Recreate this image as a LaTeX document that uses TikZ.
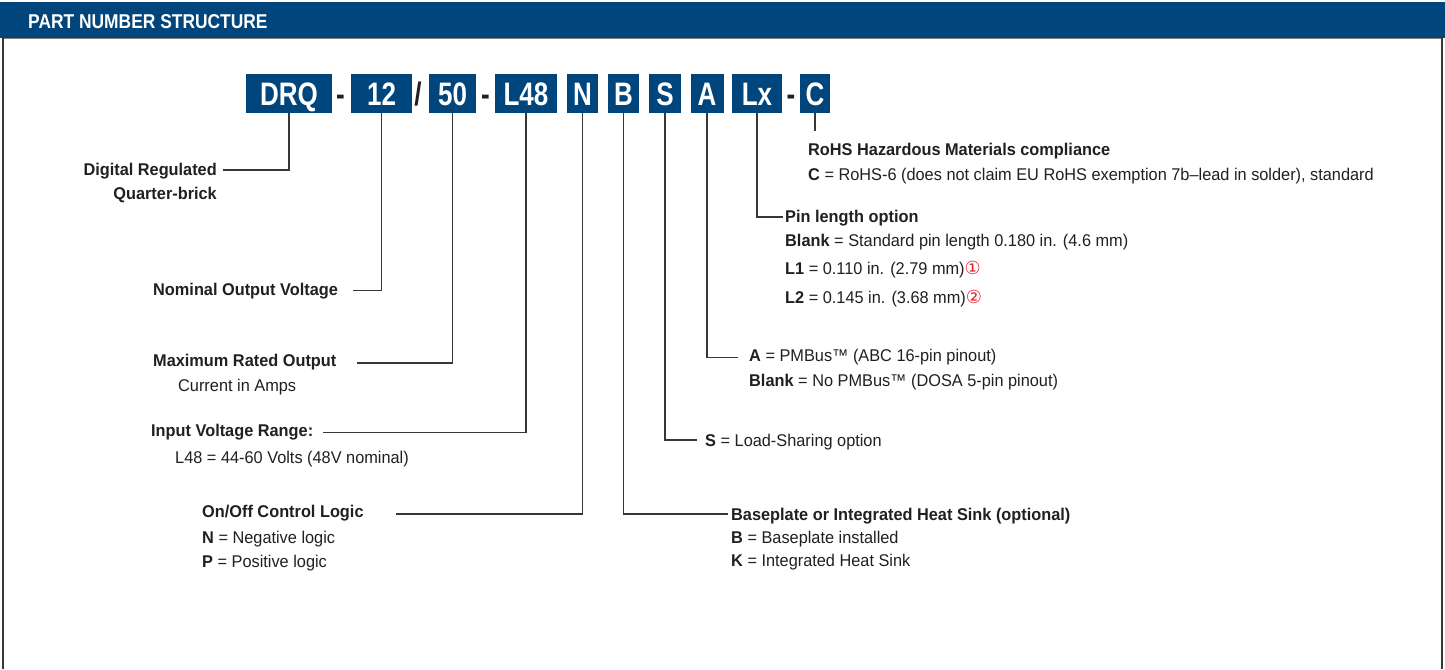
\documentclass[tikz,border=0pt]{standalone}
\usepackage{fontspec}
\setmainfont{Liberation Sans}[FakeStretch=0.96]
\newfontfamily\boxfont{Liberation Sans}[FakeStretch=0.8]
\newfontfamily\hdrfont{Liberation Sans}[FakeStretch=0.87]
\newfontfamily\symfont{DejaVu Sans}
\definecolor{pnblue}{RGB}{0,69,124}
\definecolor{ink}{RGB}{35,31,32}
\definecolor{wirec}{RGB}{55,55,55}
\definecolor{cred}{RGB}{226,30,40}
\tikzset{
  pbox/.style={fill=pnblue, text=white, font=\boxfont\bfseries\fontsize{32.5}{32.5}\selectfont,
    minimum height=39pt, inner sep=0pt, text height=23.3pt, text depth=0pt},
  sepch/.style={text=ink, font=\boxfont\bfseries\fontsize{32.5}{32.5}\selectfont, inner sep=0pt, anchor=base},
  lbl/.style={text=ink, font=\fontsize{17}{20}\selectfont, inner sep=0pt, text height=12.2pt, text depth=0pt},
  head/.style={lbl, font=\bfseries\fontsize{17}{20}\selectfont},
  wire/.style={draw=wirec, line width=1.3pt},
  framel/.style={draw=wirec, line width=1.5pt},
}
\newcommand{\circnum}[1]{{\color{cred}\symfont\fontsize{18}{18}\selectfont #1}}
\begin{document}
\begin{tikzpicture}[x=1pt,y=-1pt]
\useasboundingbox (0,0) rectangle (1445,669);
% header and frame
\fill[pnblue] (0,2.5) rectangle (1445,38);
\node[text=white, font=\hdrfont\bfseries\fontsize{20}{20}\selectfont, inner sep=0pt, anchor=west,
  text height=14.3pt, text depth=0pt] (title) at (28,21) {PART NUMBER STRUCTURE};
\draw[gray, line width=0.6pt] (3,38.6) -- (1442,38.6);
\draw[framel] (3,38) -- (3,669);
\draw[framel] (1442,38) -- (1442,669);
% part number boxes
\node[pbox, minimum width=86pt] (drq) at (289,93.5) {DRQ};
\node[sepch] (d1) at (340.5,105) {-};
\node[pbox, minimum width=61pt] (b12) at (381.5,93.5) {12};
\node[sepch] (sl) at (418,105) {/};
\node[pbox, minimum width=47pt] (b50) at (452.5,93.5) {50};
\node[sepch] (d2) at (485.5,105) {-};
\node[pbox, minimum width=62pt] (bl48) at (526,93.5) {L48};
\node[pbox, minimum width=31pt] (bn) at (582.5,93.5) {N};
\node[pbox, minimum width=31pt] (bb) at (623.5,93.5) {B};
\node[pbox, minimum width=32pt] (bs) at (665,93.5) {S};
\node[pbox, minimum width=33pt] (ba) at (707,93.5) {A};
\node[pbox, minimum width=50pt] (blx) at (757,93.5) {Lx};
\node[sepch] (d3) at (791,105) {-};
\node[pbox, minimum width=30pt] (bc) at (815,93.5) {C};
% labels
\node[head, anchor=east] (ldrq) at (217,169) {Digital Regulated};
\node[head, anchor=east] (ldrq2) at (217,193) {Quarter-brick};
\node[head, anchor=west] (l12) at (153,289.5) {Nominal Output Voltage};
\node[head, anchor=west] (l50) at (153,360.5) {Maximum Rated Output};
\node[lbl, anchor=west] (l50b) at (178,385) {Current in Amps};
\node[head, anchor=west] (l48) at (151,430) {Input Voltage Range:};
\node[lbl, anchor=west] (l48b) at (175,457) {L48 = 44-60 Volts (48V nominal)};
\node[head, anchor=west] (ln) at (202,511.5) {On/Off Control Logic};
\node[lbl, anchor=west] (lnb) at (202,537) {\textbf{N} = Negative logic};
\node[lbl, anchor=west] (lnc) at (202,561) {\textbf{P} = Positive logic};
\node[head, anchor=west] (lb) at (731,514.5) {Baseplate or Integrated Heat Sink (optional)};
\node[lbl, anchor=west] (lbb) at (731,537) {\textbf{B} = Baseplate installed};
\node[lbl, anchor=west] (lbc) at (731,560) {\textbf{K} = Integrated Heat Sink};
\node[lbl, anchor=west] (ls) at (705,440) {\textbf{S} = Load-Sharing option};
\node[lbl, anchor=west] (la) at (749,355) {\textbf{A} = PMBus™ (ABC 16-pin pinout)};
\node[lbl, anchor=west] (lab) at (749,380) {\textbf{Blank} = No PMBus™ (DOSA 5-pin pinout)};
\node[head, anchor=west] (llx) at (785,216) {Pin length option};
\node[lbl, anchor=west] (llxb) at (785,240) {\textbf{Blank} = Standard pin length 0.180 in. (4.6 mm)};
\node[lbl, anchor=west] (llxc) at (785,268.5) {\textbf{L1} = 0.110 in. (2.79 mm)\circnum{①}};
\node[lbl, anchor=west] (llxd) at (785,297) {\textbf{L2} = 0.145 in. (3.68 mm)\circnum{②}};
\node[head, anchor=west] (lc) at (808,149) {RoHS Hazardous Materials compliance};
\node[lbl, anchor=west] (lcb) at (808,174) {\textbf{C} = RoHS-6 (does not claim EU RoHS exemption 7b–lead in solder), standard};
% connector ends
\coordinate (edrq) at (223,170);
\coordinate (e12) at (353,290.5);
\coordinate (e50) at (357,363);
\coordinate (e48) at (323,432.5);
\coordinate (en) at (396,514);
\coordinate (eb) at (728,514);
\coordinate (es) at (697,440);
\coordinate (ea) at (738,357.5);
\coordinate (elx) at (783,217);
\coordinate (ec) at ([yshift=-18pt]bc.south);
% connectors
\draw[wire] (drq.south) |- (edrq);
\draw[wire] (b12.south) |- (e12);
\draw[wire] (b50.south) |- (e50);
\draw[wire] (bl48.south) |- (e48);
\draw[wire] (bn.south) |- (en);
\draw[wire] (bb.south) |- (eb);
\draw[wire] (bs.south) |- (es);
\draw[wire] (ba.south) |- (ea);
\draw[wire] (blx.south) |- (elx);
\draw[wire] (bc.south) -- (ec);
\end{tikzpicture}
\end{document}
